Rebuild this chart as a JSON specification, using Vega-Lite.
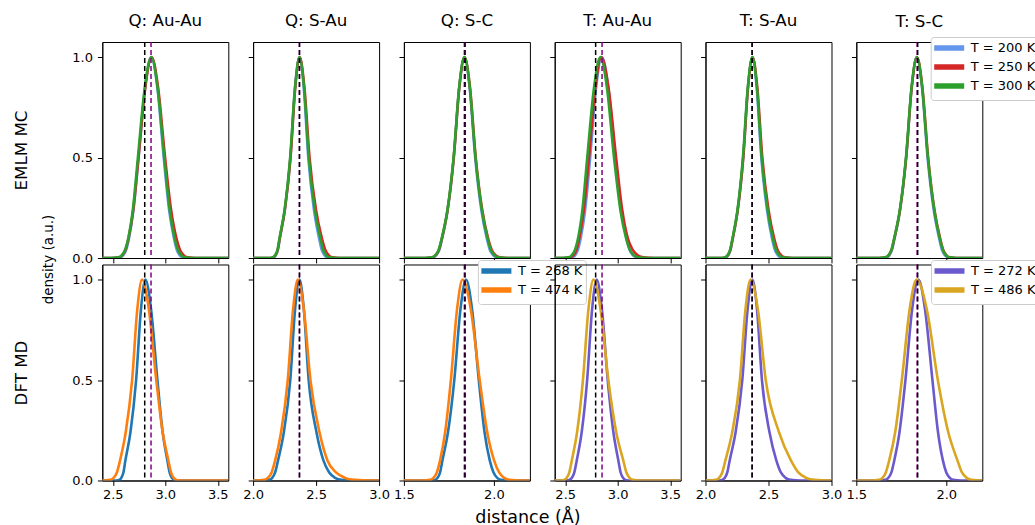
{
"$schema":"https://vega.github.io/schema/vega-lite/v6.json",
"background":"white",
"autosize":{"type":"pad"},
"padding":{"left":12.3,"top":12,"right":0,"bottom":0},
"datasets":{
"refs":[
{"c":"qa","r":"A","x":2.804},{"c":"qa","r":"B","x":2.864},
{"c":"qs","r":"A","x":2.368},{"c":"qs","r":"B","x":2.368},
{"c":"qc","r":"A","x":1.840},{"c":"qc","r":"B","x":1.836},
{"c":"ta","r":"A","x":2.790},{"c":"ta","r":"B","x":2.851},
{"c":"ts","r":"A","x":2.370},{"c":"ts","r":"B","x":2.370},
{"c":"tc","r":"A","x":1.841},{"c":"tc","r":"B","x":1.838}
],
"curves":[
{"c":"qa","m":"MC","s":"T = 200 K","x":2.4,"y":0},{"c":"qa","m":"MC","s":"T = 200 K","x":2.507,"y":0},{"c":"qa","m":"MC","s":"T = 200 K","x":2.566,"y":0.003},{"c":"qa","m":"MC","s":"T = 200 K","x":2.596,"y":0.012},{"c":"qa","m":"MC","s":"T = 200 K","x":2.627,"y":0.04},{"c":"qa","m":"MC","s":"T = 200 K","x":2.655,"y":0.1},{"c":"qa","m":"MC","s":"T = 200 K","x":2.697,"y":0.24},{"c":"qa","m":"MC","s":"T = 200 K","x":2.745,"y":0.5},{"c":"qa","m":"MC","s":"T = 200 K","x":2.808,"y":0.85},{"c":"qa","m":"MC","s":"T = 200 K","x":2.867,"y":1},{"c":"qa","m":"MC","s":"T = 200 K","x":2.924,"y":0.85},{"c":"qa","m":"MC","s":"T = 200 K","x":2.985,"y":0.5},{"c":"qa","m":"MC","s":"T = 200 K","x":3.036,"y":0.24},{"c":"qa","m":"MC","s":"T = 200 K","x":3.082,"y":0.1},{"c":"qa","m":"MC","s":"T = 200 K","x":3.110,"y":0.04},{"c":"qa","m":"MC","s":"T = 200 K","x":3.140,"y":0.012},{"c":"qa","m":"MC","s":"T = 200 K","x":3.169,"y":0.003},{"c":"qa","m":"MC","s":"T = 200 K","x":3.227,"y":0},{"c":"qa","m":"MC","s":"T = 200 K","x":3.6,"y":0},
{"c":"qa","m":"MC","s":"T = 250 K","x":2.4,"y":0},{"c":"qa","m":"MC","s":"T = 250 K","x":2.49,"y":0},{"c":"qa","m":"MC","s":"T = 250 K","x":2.554,"y":0.003},{"c":"qa","m":"MC","s":"T = 250 K","x":2.586,"y":0.012},{"c":"qa","m":"MC","s":"T = 250 K","x":2.620,"y":0.04},{"c":"qa","m":"MC","s":"T = 250 K","x":2.650,"y":0.1},{"c":"qa","m":"MC","s":"T = 250 K","x":2.695,"y":0.24},{"c":"qa","m":"MC","s":"T = 250 K","x":2.745,"y":0.5},{"c":"qa","m":"MC","s":"T = 250 K","x":2.810,"y":0.85},{"c":"qa","m":"MC","s":"T = 250 K","x":2.870,"y":1},{"c":"qa","m":"MC","s":"T = 250 K","x":2.931,"y":0.85},{"c":"qa","m":"MC","s":"T = 250 K","x":2.998,"y":0.5},{"c":"qa","m":"MC","s":"T = 250 K","x":3.055,"y":0.24},{"c":"qa","m":"MC","s":"T = 250 K","x":3.105,"y":0.1},{"c":"qa","m":"MC","s":"T = 250 K","x":3.140,"y":0.04},{"c":"qa","m":"MC","s":"T = 250 K","x":3.179,"y":0.012},{"c":"qa","m":"MC","s":"T = 250 K","x":3.216,"y":0.003},{"c":"qa","m":"MC","s":"T = 250 K","x":3.290,"y":0},{"c":"qa","m":"MC","s":"T = 250 K","x":3.6,"y":0},
{"c":"qa","m":"MC","s":"T = 300 K","x":2.4,"y":0},{"c":"qa","m":"MC","s":"T = 300 K","x":2.486,"y":0},{"c":"qa","m":"MC","s":"T = 300 K","x":2.551,"y":0.003},{"c":"qa","m":"MC","s":"T = 300 K","x":2.583,"y":0.012},{"c":"qa","m":"MC","s":"T = 300 K","x":2.617,"y":0.04},{"c":"qa","m":"MC","s":"T = 300 K","x":2.648,"y":0.1},{"c":"qa","m":"MC","s":"T = 300 K","x":2.691,"y":0.24},{"c":"qa","m":"MC","s":"T = 300 K","x":2.739,"y":0.5},{"c":"qa","m":"MC","s":"T = 300 K","x":2.805,"y":0.85},{"c":"qa","m":"MC","s":"T = 300 K","x":2.866,"y":1},{"c":"qa","m":"MC","s":"T = 300 K","x":2.926,"y":0.85},{"c":"qa","m":"MC","s":"T = 300 K","x":2.990,"y":0.5},{"c":"qa","m":"MC","s":"T = 300 K","x":3.042,"y":0.24},{"c":"qa","m":"MC","s":"T = 300 K","x":3.088,"y":0.1},{"c":"qa","m":"MC","s":"T = 300 K","x":3.120,"y":0.04},{"c":"qa","m":"MC","s":"T = 300 K","x":3.155,"y":0.012},{"c":"qa","m":"MC","s":"T = 300 K","x":3.189,"y":0.003},{"c":"qa","m":"MC","s":"T = 300 K","x":3.256,"y":0},{"c":"qa","m":"MC","s":"T = 300 K","x":3.6,"y":0},
{"c":"qa","m":"MD","s":"T = 268 K","x":2.4,"y":0},{"c":"qa","m":"MD","s":"T = 268 K","x":2.52,"y":0},{"c":"qa","m":"MD","s":"T = 268 K","x":2.56,"y":0.003},{"c":"qa","m":"MD","s":"T = 268 K","x":2.58,"y":0.012},{"c":"qa","m":"MD","s":"T = 268 K","x":2.601,"y":0.04},{"c":"qa","m":"MD","s":"T = 268 K","x":2.62,"y":0.1},{"c":"qa","m":"MD","s":"T = 268 K","x":2.668,"y":0.24},{"c":"qa","m":"MD","s":"T = 268 K","x":2.722,"y":0.5},{"c":"qa","m":"MD","s":"T = 268 K","x":2.768,"y":0.85},{"c":"qa","m":"MD","s":"T = 268 K","x":2.810,"y":1},{"c":"qa","m":"MD","s":"T = 268 K","x":2.865,"y":0.85},{"c":"qa","m":"MD","s":"T = 268 K","x":2.925,"y":0.5},{"c":"qa","m":"MD","s":"T = 268 K","x":2.975,"y":0.24},{"c":"qa","m":"MD","s":"T = 268 K","x":3.02,"y":0.1},{"c":"qa","m":"MD","s":"T = 268 K","x":3.041,"y":0.04},{"c":"qa","m":"MD","s":"T = 268 K","x":3.064,"y":0.012},{"c":"qa","m":"MD","s":"T = 268 K","x":3.086,"y":0.003},{"c":"qa","m":"MD","s":"T = 268 K","x":3.13,"y":0},{"c":"qa","m":"MD","s":"T = 268 K","x":3.6,"y":0},
{"c":"qa","m":"MD","s":"T = 474 K","x":2.4,"y":0},{"c":"qa","m":"MD","s":"T = 474 K","x":2.409,"y":0},{"c":"qa","m":"MD","s":"T = 474 K","x":2.473,"y":0.003},{"c":"qa","m":"MD","s":"T = 474 K","x":2.505,"y":0.012},{"c":"qa","m":"MD","s":"T = 474 K","x":2.539,"y":0.04},{"c":"qa","m":"MD","s":"T = 474 K","x":2.569,"y":0.1},{"c":"qa","m":"MD","s":"T = 474 K","x":2.623,"y":0.24},{"c":"qa","m":"MD","s":"T = 474 K","x":2.684,"y":0.5},{"c":"qa","m":"MD","s":"T = 474 K","x":2.733,"y":0.85},{"c":"qa","m":"MD","s":"T = 474 K","x":2.779,"y":1},{"c":"qa","m":"MD","s":"T = 474 K","x":2.844,"y":0.85},{"c":"qa","m":"MD","s":"T = 474 K","x":2.914,"y":0.5},{"c":"qa","m":"MD","s":"T = 474 K","x":2.975,"y":0.24},{"c":"qa","m":"MD","s":"T = 474 K","x":3.029,"y":0.1},{"c":"qa","m":"MD","s":"T = 474 K","x":3.054,"y":0.04},{"c":"qa","m":"MD","s":"T = 474 K","x":3.081,"y":0.012},{"c":"qa","m":"MD","s":"T = 474 K","x":3.107,"y":0.003},{"c":"qa","m":"MD","s":"T = 474 K","x":3.159,"y":0},{"c":"qa","m":"MD","s":"T = 474 K","x":3.6,"y":0},
{"c":"qs","m":"MC","s":"T = 200 K","x":2.0,"y":0},{"c":"qs","m":"MC","s":"T = 200 K","x":2.128,"y":0},{"c":"qs","m":"MC","s":"T = 200 K","x":2.162,"y":0.003},{"c":"qs","m":"MC","s":"T = 200 K","x":2.179,"y":0.012},{"c":"qs","m":"MC","s":"T = 200 K","x":2.197,"y":0.04},{"c":"qs","m":"MC","s":"T = 200 K","x":2.213,"y":0.1},{"c":"qs","m":"MC","s":"T = 200 K","x":2.252,"y":0.24},{"c":"qs","m":"MC","s":"T = 200 K","x":2.296,"y":0.5},{"c":"qs","m":"MC","s":"T = 200 K","x":2.333,"y":0.85},{"c":"qs","m":"MC","s":"T = 200 K","x":2.368,"y":1},{"c":"qs","m":"MC","s":"T = 200 K","x":2.402,"y":0.85},{"c":"qs","m":"MC","s":"T = 200 K","x":2.438,"y":0.5},{"c":"qs","m":"MC","s":"T = 200 K","x":2.483,"y":0.24},{"c":"qs","m":"MC","s":"T = 200 K","x":2.523,"y":0.1},{"c":"qs","m":"MC","s":"T = 200 K","x":2.545,"y":0.04},{"c":"qs","m":"MC","s":"T = 200 K","x":2.569,"y":0.012},{"c":"qs","m":"MC","s":"T = 200 K","x":2.592,"y":0.003},{"c":"qs","m":"MC","s":"T = 200 K","x":2.638,"y":0},{"c":"qs","m":"MC","s":"T = 200 K","x":3.0,"y":0},
{"c":"qs","m":"MC","s":"T = 250 K","x":2.0,"y":0},{"c":"qs","m":"MC","s":"T = 250 K","x":2.12,"y":0},{"c":"qs","m":"MC","s":"T = 250 K","x":2.157,"y":0.003},{"c":"qs","m":"MC","s":"T = 250 K","x":2.175,"y":0.012},{"c":"qs","m":"MC","s":"T = 250 K","x":2.195,"y":0.04},{"c":"qs","m":"MC","s":"T = 250 K","x":2.212,"y":0.1},{"c":"qs","m":"MC","s":"T = 250 K","x":2.252,"y":0.24},{"c":"qs","m":"MC","s":"T = 250 K","x":2.297,"y":0.5},{"c":"qs","m":"MC","s":"T = 250 K","x":2.335,"y":0.85},{"c":"qs","m":"MC","s":"T = 250 K","x":2.370,"y":1},{"c":"qs","m":"MC","s":"T = 250 K","x":2.407,"y":0.85},{"c":"qs","m":"MC","s":"T = 250 K","x":2.448,"y":0.5},{"c":"qs","m":"MC","s":"T = 250 K","x":2.499,"y":0.24},{"c":"qs","m":"MC","s":"T = 250 K","x":2.545,"y":0.1},{"c":"qs","m":"MC","s":"T = 250 K","x":2.573,"y":0.04},{"c":"qs","m":"MC","s":"T = 250 K","x":2.603,"y":0.012},{"c":"qs","m":"MC","s":"T = 250 K","x":2.632,"y":0.003},{"c":"qs","m":"MC","s":"T = 250 K","x":2.69,"y":0},{"c":"qs","m":"MC","s":"T = 250 K","x":3.0,"y":0},
{"c":"qs","m":"MC","s":"T = 300 K","x":2.0,"y":0},{"c":"qs","m":"MC","s":"T = 300 K","x":2.118,"y":0},{"c":"qs","m":"MC","s":"T = 300 K","x":2.155,"y":0.003},{"c":"qs","m":"MC","s":"T = 300 K","x":2.173,"y":0.012},{"c":"qs","m":"MC","s":"T = 300 K","x":2.193,"y":0.04},{"c":"qs","m":"MC","s":"T = 300 K","x":2.21,"y":0.1},{"c":"qs","m":"MC","s":"T = 300 K","x":2.25,"y":0.24},{"c":"qs","m":"MC","s":"T = 300 K","x":2.294,"y":0.5},{"c":"qs","m":"MC","s":"T = 300 K","x":2.333,"y":0.85},{"c":"qs","m":"MC","s":"T = 300 K","x":2.368,"y":1},{"c":"qs","m":"MC","s":"T = 300 K","x":2.404,"y":0.85},{"c":"qs","m":"MC","s":"T = 300 K","x":2.442,"y":0.5},{"c":"qs","m":"MC","s":"T = 300 K","x":2.49,"y":0.24},{"c":"qs","m":"MC","s":"T = 300 K","x":2.533,"y":0.1},{"c":"qs","m":"MC","s":"T = 300 K","x":2.557,"y":0.04},{"c":"qs","m":"MC","s":"T = 300 K","x":2.583,"y":0.012},{"c":"qs","m":"MC","s":"T = 300 K","x":2.608,"y":0.003},{"c":"qs","m":"MC","s":"T = 300 K","x":2.658,"y":0},{"c":"qs","m":"MC","s":"T = 300 K","x":3.0,"y":0},
{"c":"qs","m":"MD","s":"T = 268 K","x":2.0,"y":0},{"c":"qs","m":"MD","s":"T = 268 K","x":2.078,"y":0},{"c":"qs","m":"MD","s":"T = 268 K","x":2.126,"y":0.003},{"c":"qs","m":"MD","s":"T = 268 K","x":2.15,"y":0.012},{"c":"qs","m":"MD","s":"T = 268 K","x":2.175,"y":0.04},{"c":"qs","m":"MD","s":"T = 268 K","x":2.198,"y":0.1},{"c":"qs","m":"MD","s":"T = 268 K","x":2.244,"y":0.24},{"c":"qs","m":"MD","s":"T = 268 K","x":2.295,"y":0.5},{"c":"qs","m":"MD","s":"T = 268 K","x":2.333,"y":0.85},{"c":"qs","m":"MD","s":"T = 268 K","x":2.368,"y":1},{"c":"qs","m":"MD","s":"T = 268 K","x":2.403,"y":0.85},{"c":"qs","m":"MD","s":"T = 268 K","x":2.441,"y":0.5},{"c":"qs","m":"MD","s":"T = 268 K","x":2.503,"y":0.24},{"c":"qs","m":"MD","s":"T = 268 K","x":2.558,"y":0.1},{"c":"qs","m":"MD","s":"T = 268 K","x":2.604,"y":0.04},{"c":"qs","m":"MD","s":"T = 268 K","x":2.654,"y":0.012},{"c":"qs","m":"MD","s":"T = 268 K","x":2.702,"y":0.003},{"c":"qs","m":"MD","s":"T = 268 K","x":2.798,"y":0},{"c":"qs","m":"MD","s":"T = 268 K","x":3.0,"y":0},
{"c":"qs","m":"MD","s":"T = 474 K","x":2.0,"y":0},{"c":"qs","m":"MD","s":"T = 474 K","x":2.025,"y":0},{"c":"qs","m":"MD","s":"T = 474 K","x":2.085,"y":0.003},{"c":"qs","m":"MD","s":"T = 474 K","x":2.115,"y":0.012},{"c":"qs","m":"MD","s":"T = 474 K","x":2.147,"y":0.04},{"c":"qs","m":"MD","s":"T = 474 K","x":2.175,"y":0.1},{"c":"qs","m":"MD","s":"T = 474 K","x":2.222,"y":0.24},{"c":"qs","m":"MD","s":"T = 474 K","x":2.275,"y":0.5},{"c":"qs","m":"MD","s":"T = 474 K","x":2.317,"y":0.85},{"c":"qs","m":"MD","s":"T = 474 K","x":2.355,"y":1},{"c":"qs","m":"MD","s":"T = 474 K","x":2.403,"y":0.85},{"c":"qs","m":"MD","s":"T = 474 K","x":2.455,"y":0.5},{"c":"qs","m":"MD","s":"T = 474 K","x":2.527,"y":0.24},{"c":"qs","m":"MD","s":"T = 474 K","x":2.59,"y":0.1},{"c":"qs","m":"MD","s":"T = 474 K","x":2.658,"y":0.04},{"c":"qs","m":"MD","s":"T = 474 K","x":2.732,"y":0.012},{"c":"qs","m":"MD","s":"T = 474 K","x":2.803,"y":0.003},{"c":"qs","m":"MD","s":"T = 474 K","x":2.945,"y":0},{"c":"qs","m":"MD","s":"T = 474 K","x":3.0,"y":0},
{"c":"qc","m":"MC","s":"T = 200 K","x":1.5,"y":0},{"c":"qc","m":"MC","s":"T = 200 K","x":1.626,"y":0},{"c":"qc","m":"MC","s":"T = 200 K","x":1.661,"y":0.003},{"c":"qc","m":"MC","s":"T = 200 K","x":1.678,"y":0.012},{"c":"qc","m":"MC","s":"T = 200 K","x":1.697,"y":0.04},{"c":"qc","m":"MC","s":"T = 200 K","x":1.713,"y":0.1},{"c":"qc","m":"MC","s":"T = 200 K","x":1.743,"y":0.24},{"c":"qc","m":"MC","s":"T = 200 K","x":1.777,"y":0.5},{"c":"qc","m":"MC","s":"T = 200 K","x":1.808,"y":0.85},{"c":"qc","m":"MC","s":"T = 200 K","x":1.836,"y":1},{"c":"qc","m":"MC","s":"T = 200 K","x":1.865,"y":0.85},{"c":"qc","m":"MC","s":"T = 200 K","x":1.896,"y":0.5},{"c":"qc","m":"MC","s":"T = 200 K","x":1.93,"y":0.24},{"c":"qc","m":"MC","s":"T = 200 K","x":1.96,"y":0.1},{"c":"qc","m":"MC","s":"T = 200 K","x":1.978,"y":0.04},{"c":"qc","m":"MC","s":"T = 200 K","x":1.998,"y":0.012},{"c":"qc","m":"MC","s":"T = 200 K","x":2.018,"y":0.003},{"c":"qc","m":"MC","s":"T = 200 K","x":2.056,"y":0},{"c":"qc","m":"MC","s":"T = 200 K","x":2.2,"y":0},
{"c":"qc","m":"MC","s":"T = 250 K","x":1.5,"y":0},{"c":"qc","m":"MC","s":"T = 250 K","x":1.617,"y":0},{"c":"qc","m":"MC","s":"T = 250 K","x":1.655,"y":0.003},{"c":"qc","m":"MC","s":"T = 250 K","x":1.674,"y":0.012},{"c":"qc","m":"MC","s":"T = 250 K","x":1.694,"y":0.04},{"c":"qc","m":"MC","s":"T = 250 K","x":1.712,"y":0.1},{"c":"qc","m":"MC","s":"T = 250 K","x":1.743,"y":0.24},{"c":"qc","m":"MC","s":"T = 250 K","x":1.777,"y":0.5},{"c":"qc","m":"MC","s":"T = 250 K","x":1.808,"y":0.85},{"c":"qc","m":"MC","s":"T = 250 K","x":1.837,"y":1},{"c":"qc","m":"MC","s":"T = 250 K","x":1.867,"y":0.85},{"c":"qc","m":"MC","s":"T = 250 K","x":1.899,"y":0.5},{"c":"qc","m":"MC","s":"T = 250 K","x":1.935,"y":0.24},{"c":"qc","m":"MC","s":"T = 250 K","x":1.967,"y":0.1},{"c":"qc","m":"MC","s":"T = 250 K","x":1.988,"y":0.04},{"c":"qc","m":"MC","s":"T = 250 K","x":2.011,"y":0.012},{"c":"qc","m":"MC","s":"T = 250 K","x":2.033,"y":0.003},{"c":"qc","m":"MC","s":"T = 250 K","x":2.077,"y":0},{"c":"qc","m":"MC","s":"T = 250 K","x":2.2,"y":0},
{"c":"qc","m":"MC","s":"T = 300 K","x":1.5,"y":0},{"c":"qc","m":"MC","s":"T = 300 K","x":1.616,"y":0},{"c":"qc","m":"MC","s":"T = 300 K","x":1.654,"y":0.003},{"c":"qc","m":"MC","s":"T = 300 K","x":1.673,"y":0.012},{"c":"qc","m":"MC","s":"T = 300 K","x":1.693,"y":0.04},{"c":"qc","m":"MC","s":"T = 300 K","x":1.711,"y":0.1},{"c":"qc","m":"MC","s":"T = 300 K","x":1.742,"y":0.24},{"c":"qc","m":"MC","s":"T = 300 K","x":1.776,"y":0.5},{"c":"qc","m":"MC","s":"T = 300 K","x":1.807,"y":0.85},{"c":"qc","m":"MC","s":"T = 300 K","x":1.836,"y":1},{"c":"qc","m":"MC","s":"T = 300 K","x":1.866,"y":0.85},{"c":"qc","m":"MC","s":"T = 300 K","x":1.898,"y":0.5},{"c":"qc","m":"MC","s":"T = 300 K","x":1.933,"y":0.24},{"c":"qc","m":"MC","s":"T = 300 K","x":1.964,"y":0.1},{"c":"qc","m":"MC","s":"T = 300 K","x":1.983,"y":0.04},{"c":"qc","m":"MC","s":"T = 300 K","x":2.005,"y":0.012},{"c":"qc","m":"MC","s":"T = 300 K","x":2.025,"y":0.003},{"c":"qc","m":"MC","s":"T = 300 K","x":2.066,"y":0},{"c":"qc","m":"MC","s":"T = 300 K","x":2.2,"y":0},
{"c":"qc","m":"MD","s":"T = 268 K","x":1.5,"y":0},{"c":"qc","m":"MD","s":"T = 268 K","x":1.645,"y":0},{"c":"qc","m":"MD","s":"T = 268 K","x":1.673,"y":0.003},{"c":"qc","m":"MD","s":"T = 268 K","x":1.686,"y":0.012},{"c":"qc","m":"MD","s":"T = 268 K","x":1.701,"y":0.04},{"c":"qc","m":"MD","s":"T = 268 K","x":1.714,"y":0.1},{"c":"qc","m":"MD","s":"T = 268 K","x":1.745,"y":0.24},{"c":"qc","m":"MD","s":"T = 268 K","x":1.78,"y":0.5},{"c":"qc","m":"MD","s":"T = 268 K","x":1.814,"y":0.85},{"c":"qc","m":"MD","s":"T = 268 K","x":1.845,"y":1},{"c":"qc","m":"MD","s":"T = 268 K","x":1.879,"y":0.85},{"c":"qc","m":"MD","s":"T = 268 K","x":1.916,"y":0.5},{"c":"qc","m":"MD","s":"T = 268 K","x":1.948,"y":0.24},{"c":"qc","m":"MD","s":"T = 268 K","x":1.977,"y":0.1},{"c":"qc","m":"MD","s":"T = 268 K","x":1.998,"y":0.04},{"c":"qc","m":"MD","s":"T = 268 K","x":2.02,"y":0.012},{"c":"qc","m":"MD","s":"T = 268 K","x":2.042,"y":0.003},{"c":"qc","m":"MD","s":"T = 268 K","x":2.085,"y":0},{"c":"qc","m":"MD","s":"T = 268 K","x":2.2,"y":0},
{"c":"qc","m":"MD","s":"T = 474 K","x":1.5,"y":0},{"c":"qc","m":"MD","s":"T = 474 K","x":1.606,"y":0},{"c":"qc","m":"MD","s":"T = 474 K","x":1.644,"y":0.003},{"c":"qc","m":"MD","s":"T = 474 K","x":1.663,"y":0.012},{"c":"qc","m":"MD","s":"T = 474 K","x":1.683,"y":0.04},{"c":"qc","m":"MD","s":"T = 474 K","x":1.701,"y":0.1},{"c":"qc","m":"MD","s":"T = 474 K","x":1.729,"y":0.24},{"c":"qc","m":"MD","s":"T = 474 K","x":1.761,"y":0.5},{"c":"qc","m":"MD","s":"T = 474 K","x":1.795,"y":0.85},{"c":"qc","m":"MD","s":"T = 474 K","x":1.826,"y":1},{"c":"qc","m":"MD","s":"T = 474 K","x":1.872,"y":0.85},{"c":"qc","m":"MD","s":"T = 474 K","x":1.921,"y":0.5},{"c":"qc","m":"MD","s":"T = 474 K","x":1.963,"y":0.24},{"c":"qc","m":"MD","s":"T = 474 K","x":2.001,"y":0.1},{"c":"qc","m":"MD","s":"T = 474 K","x":2.029,"y":0.04},{"c":"qc","m":"MD","s":"T = 474 K","x":2.059,"y":0.012},{"c":"qc","m":"MD","s":"T = 474 K","x":2.088,"y":0.003},{"c":"qc","m":"MD","s":"T = 474 K","x":2.146,"y":0},{"c":"qc","m":"MD","s":"T = 474 K","x":2.2,"y":0},
{"c":"ta","m":"MC","s":"T = 200 K","x":2.4,"y":0},{"c":"ta","m":"MC","s":"T = 200 K","x":2.508,"y":0},{"c":"ta","m":"MC","s":"T = 200 K","x":2.564,"y":0.003},{"c":"ta","m":"MC","s":"T = 200 K","x":2.592,"y":0.012},{"c":"ta","m":"MC","s":"T = 200 K","x":2.621,"y":0.04},{"c":"ta","m":"MC","s":"T = 200 K","x":2.648,"y":0.1},{"c":"ta","m":"MC","s":"T = 200 K","x":2.69,"y":0.24},{"c":"ta","m":"MC","s":"T = 200 K","x":2.738,"y":0.5},{"c":"ta","m":"MC","s":"T = 200 K","x":2.795,"y":0.85},{"c":"ta","m":"MC","s":"T = 200 K","x":2.848,"y":1},{"c":"ta","m":"MC","s":"T = 200 K","x":2.91,"y":0.85},{"c":"ta","m":"MC","s":"T = 200 K","x":2.978,"y":0.5},{"c":"ta","m":"MC","s":"T = 200 K","x":3.034,"y":0.24},{"c":"ta","m":"MC","s":"T = 200 K","x":3.083,"y":0.1},{"c":"ta","m":"MC","s":"T = 200 K","x":3.114,"y":0.04},{"c":"ta","m":"MC","s":"T = 200 K","x":3.149,"y":0.012},{"c":"ta","m":"MC","s":"T = 200 K","x":3.182,"y":0.003},{"c":"ta","m":"MC","s":"T = 200 K","x":3.248,"y":0},{"c":"ta","m":"MC","s":"T = 200 K","x":3.6,"y":0},
{"c":"ta","m":"MC","s":"T = 250 K","x":2.4,"y":0},{"c":"ta","m":"MC","s":"T = 250 K","x":2.485,"y":0},{"c":"ta","m":"MC","s":"T = 250 K","x":2.545,"y":0.003},{"c":"ta","m":"MC","s":"T = 250 K","x":2.575,"y":0.012},{"c":"ta","m":"MC","s":"T = 250 K","x":2.607,"y":0.04},{"c":"ta","m":"MC","s":"T = 250 K","x":2.635,"y":0.1},{"c":"ta","m":"MC","s":"T = 250 K","x":2.678,"y":0.24},{"c":"ta","m":"MC","s":"T = 250 K","x":2.727,"y":0.5},{"c":"ta","m":"MC","s":"T = 250 K","x":2.788,"y":0.85},{"c":"ta","m":"MC","s":"T = 250 K","x":2.845,"y":1},{"c":"ta","m":"MC","s":"T = 250 K","x":2.912,"y":0.85},{"c":"ta","m":"MC","s":"T = 250 K","x":2.985,"y":0.5},{"c":"ta","m":"MC","s":"T = 250 K","x":3.043,"y":0.24},{"c":"ta","m":"MC","s":"T = 250 K","x":3.095,"y":0.1},{"c":"ta","m":"MC","s":"T = 250 K","x":3.143,"y":0.04},{"c":"ta","m":"MC","s":"T = 250 K","x":3.195,"y":0.012},{"c":"ta","m":"MC","s":"T = 250 K","x":3.245,"y":0.003},{"c":"ta","m":"MC","s":"T = 250 K","x":3.345,"y":0},{"c":"ta","m":"MC","s":"T = 250 K","x":3.6,"y":0},
{"c":"ta","m":"MC","s":"T = 300 K","x":2.4,"y":0},{"c":"ta","m":"MC","s":"T = 300 K","x":2.465,"y":0},{"c":"ta","m":"MC","s":"T = 300 K","x":2.528,"y":0.003},{"c":"ta","m":"MC","s":"T = 300 K","x":2.56,"y":0.012},{"c":"ta","m":"MC","s":"T = 300 K","x":2.593,"y":0.04},{"c":"ta","m":"MC","s":"T = 300 K","x":2.623,"y":0.1},{"c":"ta","m":"MC","s":"T = 300 K","x":2.664,"y":0.24},{"c":"ta","m":"MC","s":"T = 300 K","x":2.71,"y":0.5},{"c":"ta","m":"MC","s":"T = 300 K","x":2.775,"y":0.85},{"c":"ta","m":"MC","s":"T = 300 K","x":2.835,"y":1},{"c":"ta","m":"MC","s":"T = 300 K","x":2.897,"y":0.85},{"c":"ta","m":"MC","s":"T = 300 K","x":2.965,"y":0.5},{"c":"ta","m":"MC","s":"T = 300 K","x":3.025,"y":0.24},{"c":"ta","m":"MC","s":"T = 300 K","x":3.079,"y":0.1},{"c":"ta","m":"MC","s":"T = 300 K","x":3.116,"y":0.04},{"c":"ta","m":"MC","s":"T = 300 K","x":3.157,"y":0.012},{"c":"ta","m":"MC","s":"T = 300 K","x":3.197,"y":0.003},{"c":"ta","m":"MC","s":"T = 300 K","x":3.275,"y":0},{"c":"ta","m":"MC","s":"T = 300 K","x":3.6,"y":0},
{"c":"ta","m":"MD","s":"T = 272 K","x":2.4,"y":0},{"c":"ta","m":"MD","s":"T = 272 K","x":2.49,"y":0},{"c":"ta","m":"MD","s":"T = 272 K","x":2.538,"y":0.003},{"c":"ta","m":"MD","s":"T = 272 K","x":2.562,"y":0.012},{"c":"ta","m":"MD","s":"T = 272 K","x":2.587,"y":0.04},{"c":"ta","m":"MD","s":"T = 272 K","x":2.61,"y":0.1},{"c":"ta","m":"MD","s":"T = 272 K","x":2.657,"y":0.24},{"c":"ta","m":"MD","s":"T = 272 K","x":2.709,"y":0.5},{"c":"ta","m":"MD","s":"T = 272 K","x":2.756,"y":0.85},{"c":"ta","m":"MD","s":"T = 272 K","x":2.800,"y":1},{"c":"ta","m":"MD","s":"T = 272 K","x":2.85,"y":0.85},{"c":"ta","m":"MD","s":"T = 272 K","x":2.905,"y":0.5},{"c":"ta","m":"MD","s":"T = 272 K","x":2.959,"y":0.24},{"c":"ta","m":"MD","s":"T = 272 K","x":3.006,"y":0.1},{"c":"ta","m":"MD","s":"T = 272 K","x":3.028,"y":0.04},{"c":"ta","m":"MD","s":"T = 272 K","x":3.052,"y":0.012},{"c":"ta","m":"MD","s":"T = 272 K","x":3.074,"y":0.003},{"c":"ta","m":"MD","s":"T = 272 K","x":3.12,"y":0},{"c":"ta","m":"MD","s":"T = 272 K","x":3.6,"y":0},
{"c":"ta","m":"MD","s":"T = 486 K","x":2.4,"y":0},{"c":"ta","m":"MD","s":"T = 486 K","x":2.439,"y":0},{"c":"ta","m":"MD","s":"T = 486 K","x":2.489,"y":0.003},{"c":"ta","m":"MD","s":"T = 486 K","x":2.513,"y":0.012},{"c":"ta","m":"MD","s":"T = 486 K","x":2.539,"y":0.04},{"c":"ta","m":"MD","s":"T = 486 K","x":2.563,"y":0.1},{"c":"ta","m":"MD","s":"T = 486 K","x":2.613,"y":0.24},{"c":"ta","m":"MD","s":"T = 486 K","x":2.669,"y":0.5},{"c":"ta","m":"MD","s":"T = 486 K","x":2.721,"y":0.85},{"c":"ta","m":"MD","s":"T = 486 K","x":2.769,"y":1},{"c":"ta","m":"MD","s":"T = 486 K","x":2.837,"y":0.85},{"c":"ta","m":"MD","s":"T = 486 K","x":2.911,"y":0.5},{"c":"ta","m":"MD","s":"T = 486 K","x":2.986,"y":0.24},{"c":"ta","m":"MD","s":"T = 486 K","x":3.053,"y":0.1},{"c":"ta","m":"MD","s":"T = 486 K","x":3.083,"y":0.04},{"c":"ta","m":"MD","s":"T = 486 K","x":3.115,"y":0.012},{"c":"ta","m":"MD","s":"T = 486 K","x":3.147,"y":0.003},{"c":"ta","m":"MD","s":"T = 486 K","x":3.209,"y":0},{"c":"ta","m":"MD","s":"T = 486 K","x":3.6,"y":0},
{"c":"ts","m":"MC","s":"T = 200 K","x":2.0,"y":0},{"c":"ts","m":"MC","s":"T = 200 K","x":2.122,"y":0},{"c":"ts","m":"MC","s":"T = 200 K","x":2.16,"y":0.003},{"c":"ts","m":"MC","s":"T = 200 K","x":2.179,"y":0.012},{"c":"ts","m":"MC","s":"T = 200 K","x":2.199,"y":0.04},{"c":"ts","m":"MC","s":"T = 200 K","x":2.217,"y":0.1},{"c":"ts","m":"MC","s":"T = 200 K","x":2.256,"y":0.24},{"c":"ts","m":"MC","s":"T = 200 K","x":2.299,"y":0.5},{"c":"ts","m":"MC","s":"T = 200 K","x":2.337,"y":0.85},{"c":"ts","m":"MC","s":"T = 200 K","x":2.372,"y":1},{"c":"ts","m":"MC","s":"T = 200 K","x":2.406,"y":0.85},{"c":"ts","m":"MC","s":"T = 200 K","x":2.443,"y":0.5},{"c":"ts","m":"MC","s":"T = 200 K","x":2.488,"y":0.24},{"c":"ts","m":"MC","s":"T = 200 K","x":2.527,"y":0.1},{"c":"ts","m":"MC","s":"T = 200 K","x":2.551,"y":0.04},{"c":"ts","m":"MC","s":"T = 200 K","x":2.577,"y":0.012},{"c":"ts","m":"MC","s":"T = 200 K","x":2.602,"y":0.003},{"c":"ts","m":"MC","s":"T = 200 K","x":2.652,"y":0},{"c":"ts","m":"MC","s":"T = 200 K","x":3.0,"y":0},
{"c":"ts","m":"MC","s":"T = 250 K","x":2.0,"y":0},{"c":"ts","m":"MC","s":"T = 250 K","x":2.114,"y":0},{"c":"ts","m":"MC","s":"T = 250 K","x":2.155,"y":0.003},{"c":"ts","m":"MC","s":"T = 250 K","x":2.176,"y":0.012},{"c":"ts","m":"MC","s":"T = 250 K","x":2.197,"y":0.04},{"c":"ts","m":"MC","s":"T = 250 K","x":2.217,"y":0.1},{"c":"ts","m":"MC","s":"T = 250 K","x":2.256,"y":0.24},{"c":"ts","m":"MC","s":"T = 250 K","x":2.3,"y":0.5},{"c":"ts","m":"MC","s":"T = 250 K","x":2.338,"y":0.85},{"c":"ts","m":"MC","s":"T = 250 K","x":2.374,"y":1},{"c":"ts","m":"MC","s":"T = 250 K","x":2.411,"y":0.85},{"c":"ts","m":"MC","s":"T = 250 K","x":2.451,"y":0.5},{"c":"ts","m":"MC","s":"T = 250 K","x":2.5,"y":0.24},{"c":"ts","m":"MC","s":"T = 250 K","x":2.544,"y":0.1},{"c":"ts","m":"MC","s":"T = 250 K","x":2.572,"y":0.04},{"c":"ts","m":"MC","s":"T = 250 K","x":2.604,"y":0.012},{"c":"ts","m":"MC","s":"T = 250 K","x":2.634,"y":0.003},{"c":"ts","m":"MC","s":"T = 250 K","x":2.694,"y":0},{"c":"ts","m":"MC","s":"T = 250 K","x":3.0,"y":0},
{"c":"ts","m":"MC","s":"T = 300 K","x":2.0,"y":0},{"c":"ts","m":"MC","s":"T = 300 K","x":2.112,"y":0},{"c":"ts","m":"MC","s":"T = 300 K","x":2.153,"y":0.003},{"c":"ts","m":"MC","s":"T = 300 K","x":2.174,"y":0.012},{"c":"ts","m":"MC","s":"T = 300 K","x":2.195,"y":0.04},{"c":"ts","m":"MC","s":"T = 300 K","x":2.215,"y":0.1},{"c":"ts","m":"MC","s":"T = 300 K","x":2.254,"y":0.24},{"c":"ts","m":"MC","s":"T = 300 K","x":2.297,"y":0.5},{"c":"ts","m":"MC","s":"T = 300 K","x":2.336,"y":0.85},{"c":"ts","m":"MC","s":"T = 300 K","x":2.372,"y":1},{"c":"ts","m":"MC","s":"T = 300 K","x":2.408,"y":0.85},{"c":"ts","m":"MC","s":"T = 300 K","x":2.446,"y":0.5},{"c":"ts","m":"MC","s":"T = 300 K","x":2.493,"y":0.24},{"c":"ts","m":"MC","s":"T = 300 K","x":2.534,"y":0.1},{"c":"ts","m":"MC","s":"T = 300 K","x":2.56,"y":0.04},{"c":"ts","m":"MC","s":"T = 300 K","x":2.589,"y":0.012},{"c":"ts","m":"MC","s":"T = 300 K","x":2.617,"y":0.003},{"c":"ts","m":"MC","s":"T = 300 K","x":2.672,"y":0},{"c":"ts","m":"MC","s":"T = 300 K","x":3.0,"y":0},
{"c":"ts","m":"MD","s":"T = 272 K","x":2.0,"y":0},{"c":"ts","m":"MD","s":"T = 272 K","x":2.092,"y":0},{"c":"ts","m":"MD","s":"T = 272 K","x":2.132,"y":0.003},{"c":"ts","m":"MD","s":"T = 272 K","x":2.152,"y":0.012},{"c":"ts","m":"MD","s":"T = 272 K","x":2.173,"y":0.04},{"c":"ts","m":"MD","s":"T = 272 K","x":2.192,"y":0.1},{"c":"ts","m":"MD","s":"T = 272 K","x":2.239,"y":0.24},{"c":"ts","m":"MD","s":"T = 272 K","x":2.292,"y":0.5},{"c":"ts","m":"MD","s":"T = 272 K","x":2.334,"y":0.85},{"c":"ts","m":"MD","s":"T = 272 K","x":2.372,"y":1},{"c":"ts","m":"MD","s":"T = 272 K","x":2.409,"y":0.85},{"c":"ts","m":"MD","s":"T = 272 K","x":2.448,"y":0.5},{"c":"ts","m":"MD","s":"T = 272 K","x":2.508,"y":0.24},{"c":"ts","m":"MD","s":"T = 272 K","x":2.562,"y":0.1},{"c":"ts","m":"MD","s":"T = 272 K","x":2.598,"y":0.04},{"c":"ts","m":"MD","s":"T = 272 K","x":2.638,"y":0.012},{"c":"ts","m":"MD","s":"T = 272 K","x":2.676,"y":0.003},{"c":"ts","m":"MD","s":"T = 272 K","x":2.752,"y":0},{"c":"ts","m":"MD","s":"T = 272 K","x":3.0,"y":0},
{"c":"ts","m":"MD","s":"T = 486 K","x":2.0,"y":0},{"c":"ts","m":"MD","s":"T = 486 K","x":2.028,"y":0},{"c":"ts","m":"MD","s":"T = 486 K","x":2.08,"y":0.003},{"c":"ts","m":"MD","s":"T = 486 K","x":2.106,"y":0.012},{"c":"ts","m":"MD","s":"T = 486 K","x":2.133,"y":0.04},{"c":"ts","m":"MD","s":"T = 486 K","x":2.158,"y":0.1},{"c":"ts","m":"MD","s":"T = 486 K","x":2.212,"y":0.24},{"c":"ts","m":"MD","s":"T = 486 K","x":2.273,"y":0.5},{"c":"ts","m":"MD","s":"T = 486 K","x":2.317,"y":0.85},{"c":"ts","m":"MD","s":"T = 486 K","x":2.358,"y":1},{"c":"ts","m":"MD","s":"T = 486 K","x":2.416,"y":0.85},{"c":"ts","m":"MD","s":"T = 486 K","x":2.478,"y":0.5},{"c":"ts","m":"MD","s":"T = 486 K","x":2.584,"y":0.24},{"c":"ts","m":"MD","s":"T = 486 K","x":2.678,"y":0.1},{"c":"ts","m":"MD","s":"T = 486 K","x":2.737,"y":0.04},{"c":"ts","m":"MD","s":"T = 486 K","x":2.802,"y":0.012},{"c":"ts","m":"MD","s":"T = 486 K","x":2.864,"y":0.003},{"c":"ts","m":"MD","s":"T = 486 K","x":2.988,"y":0},{"c":"ts","m":"MD","s":"T = 486 K","x":3.0,"y":0},
{"c":"tc","m":"MC","s":"T = 200 K","x":1.5,"y":0},{"c":"tc","m":"MC","s":"T = 200 K","x":1.636,"y":0},{"c":"tc","m":"MC","s":"T = 200 K","x":1.667,"y":0.003},{"c":"tc","m":"MC","s":"T = 200 K","x":1.682,"y":0.012},{"c":"tc","m":"MC","s":"T = 200 K","x":1.698,"y":0.04},{"c":"tc","m":"MC","s":"T = 200 K","x":1.713,"y":0.1},{"c":"tc","m":"MC","s":"T = 200 K","x":1.743,"y":0.24},{"c":"tc","m":"MC","s":"T = 200 K","x":1.777,"y":0.5},{"c":"tc","m":"MC","s":"T = 200 K","x":1.808,"y":0.85},{"c":"tc","m":"MC","s":"T = 200 K","x":1.836,"y":1},{"c":"tc","m":"MC","s":"T = 200 K","x":1.865,"y":0.85},{"c":"tc","m":"MC","s":"T = 200 K","x":1.896,"y":0.5},{"c":"tc","m":"MC","s":"T = 200 K","x":1.93,"y":0.24},{"c":"tc","m":"MC","s":"T = 200 K","x":1.96,"y":0.1},{"c":"tc","m":"MC","s":"T = 200 K","x":1.976,"y":0.04},{"c":"tc","m":"MC","s":"T = 200 K","x":1.994,"y":0.012},{"c":"tc","m":"MC","s":"T = 200 K","x":2.012,"y":0.003},{"c":"tc","m":"MC","s":"T = 200 K","x":2.046,"y":0},{"c":"tc","m":"MC","s":"T = 200 K","x":2.2,"y":0},
{"c":"tc","m":"MC","s":"T = 250 K","x":1.5,"y":0},{"c":"tc","m":"MC","s":"T = 250 K","x":1.627,"y":0},{"c":"tc","m":"MC","s":"T = 250 K","x":1.661,"y":0.003},{"c":"tc","m":"MC","s":"T = 250 K","x":1.678,"y":0.012},{"c":"tc","m":"MC","s":"T = 250 K","x":1.696,"y":0.04},{"c":"tc","m":"MC","s":"T = 250 K","x":1.712,"y":0.1},{"c":"tc","m":"MC","s":"T = 250 K","x":1.743,"y":0.24},{"c":"tc","m":"MC","s":"T = 250 K","x":1.777,"y":0.5},{"c":"tc","m":"MC","s":"T = 250 K","x":1.808,"y":0.85},{"c":"tc","m":"MC","s":"T = 250 K","x":1.837,"y":1},{"c":"tc","m":"MC","s":"T = 250 K","x":1.867,"y":0.85},{"c":"tc","m":"MC","s":"T = 250 K","x":1.899,"y":0.5},{"c":"tc","m":"MC","s":"T = 250 K","x":1.934,"y":0.24},{"c":"tc","m":"MC","s":"T = 250 K","x":1.965,"y":0.1},{"c":"tc","m":"MC","s":"T = 250 K","x":1.983,"y":0.04},{"c":"tc","m":"MC","s":"T = 250 K","x":2.002,"y":0.012},{"c":"tc","m":"MC","s":"T = 250 K","x":2.02,"y":0.003},{"c":"tc","m":"MC","s":"T = 250 K","x":2.057,"y":0},{"c":"tc","m":"MC","s":"T = 250 K","x":2.2,"y":0},
{"c":"tc","m":"MC","s":"T = 300 K","x":1.5,"y":0},{"c":"tc","m":"MC","s":"T = 300 K","x":1.626,"y":0},{"c":"tc","m":"MC","s":"T = 300 K","x":1.66,"y":0.003},{"c":"tc","m":"MC","s":"T = 300 K","x":1.677,"y":0.012},{"c":"tc","m":"MC","s":"T = 300 K","x":1.695,"y":0.04},{"c":"tc","m":"MC","s":"T = 300 K","x":1.711,"y":0.1},{"c":"tc","m":"MC","s":"T = 300 K","x":1.742,"y":0.24},{"c":"tc","m":"MC","s":"T = 300 K","x":1.776,"y":0.5},{"c":"tc","m":"MC","s":"T = 300 K","x":1.807,"y":0.85},{"c":"tc","m":"MC","s":"T = 300 K","x":1.836,"y":1},{"c":"tc","m":"MC","s":"T = 300 K","x":1.866,"y":0.85},{"c":"tc","m":"MC","s":"T = 300 K","x":1.898,"y":0.5},{"c":"tc","m":"MC","s":"T = 300 K","x":1.933,"y":0.24},{"c":"tc","m":"MC","s":"T = 300 K","x":1.963,"y":0.1},{"c":"tc","m":"MC","s":"T = 300 K","x":1.981,"y":0.04},{"c":"tc","m":"MC","s":"T = 300 K","x":2.0,"y":0.012},{"c":"tc","m":"MC","s":"T = 300 K","x":2.019,"y":0.003},{"c":"tc","m":"MC","s":"T = 300 K","x":2.056,"y":0},{"c":"tc","m":"MC","s":"T = 300 K","x":2.2,"y":0},
{"c":"tc","m":"MD","s":"T = 272 K","x":1.5,"y":0},{"c":"tc","m":"MD","s":"T = 272 K","x":1.625,"y":0},{"c":"tc","m":"MD","s":"T = 272 K","x":1.659,"y":0.003},{"c":"tc","m":"MD","s":"T = 272 K","x":1.677,"y":0.012},{"c":"tc","m":"MD","s":"T = 272 K","x":1.695,"y":0.04},{"c":"tc","m":"MD","s":"T = 272 K","x":1.711,"y":0.1},{"c":"tc","m":"MD","s":"T = 272 K","x":1.74,"y":0.24},{"c":"tc","m":"MD","s":"T = 272 K","x":1.773,"y":0.5},{"c":"tc","m":"MD","s":"T = 272 K","x":1.81,"y":0.85},{"c":"tc","m":"MD","s":"T = 272 K","x":1.845,"y":1},{"c":"tc","m":"MD","s":"T = 272 K","x":1.882,"y":0.85},{"c":"tc","m":"MD","s":"T = 272 K","x":1.923,"y":0.5},{"c":"tc","m":"MD","s":"T = 272 K","x":1.954,"y":0.24},{"c":"tc","m":"MD","s":"T = 272 K","x":1.981,"y":0.1},{"c":"tc","m":"MD","s":"T = 272 K","x":2.0,"y":0.04},{"c":"tc","m":"MD","s":"T = 272 K","x":2.021,"y":0.012},{"c":"tc","m":"MD","s":"T = 272 K","x":2.04,"y":0.003},{"c":"tc","m":"MD","s":"T = 272 K","x":2.08,"y":0},{"c":"tc","m":"MD","s":"T = 272 K","x":2.2,"y":0},
{"c":"tc","m":"MD","s":"T = 486 K","x":1.5,"y":0},{"c":"tc","m":"MD","s":"T = 486 K","x":1.585,"y":0},{"c":"tc","m":"MD","s":"T = 486 K","x":1.624,"y":0.003},{"c":"tc","m":"MD","s":"T = 486 K","x":1.644,"y":0.012},{"c":"tc","m":"MD","s":"T = 486 K","x":1.664,"y":0.04},{"c":"tc","m":"MD","s":"T = 486 K","x":1.683,"y":0.1},{"c":"tc","m":"MD","s":"T = 486 K","x":1.716,"y":0.24},{"c":"tc","m":"MD","s":"T = 486 K","x":1.753,"y":0.5},{"c":"tc","m":"MD","s":"T = 486 K","x":1.796,"y":0.85},{"c":"tc","m":"MD","s":"T = 486 K","x":1.835,"y":1},{"c":"tc","m":"MD","s":"T = 486 K","x":1.892,"y":0.85},{"c":"tc","m":"MD","s":"T = 486 K","x":1.953,"y":0.5},{"c":"tc","m":"MD","s":"T = 486 K","x":2.011,"y":0.24},{"c":"tc","m":"MD","s":"T = 486 K","x":2.062,"y":0.1},{"c":"tc","m":"MD","s":"T = 486 K","x":2.087,"y":0.04},{"c":"tc","m":"MD","s":"T = 486 K","x":2.115,"y":0.012},{"c":"tc","m":"MD","s":"T = 486 K","x":2.142,"y":0.003},{"c":"tc","m":"MD","s":"T = 486 K","x":2.195,"y":0},{"c":"tc","m":"MD","s":"T = 486 K","x":2.2,"y":0}
]
},
"columns":6,
"spacing":{"row":6.5,"column":24.8},
"bounds":"flush",
"resolve":{"scale":{"x":"independent","y":"independent","color":"independent"},"legend":{"color":"independent"},"axis":{"x":"independent","y":"independent"}},
"concat":[
{"width":126,"height":216,"title":"Q: Au-Au","layer":[
 {"data":{"name":"curves"},"transform":[{"filter":"datum.c=='qa' && datum.m=='MC'"}],"mark":{"type":"line","interpolate":"monotone","strokeWidth":2.6,"clip":true},
  "encoding":{"x":{"field":"x","type":"quantitative","scale":{"domain":[2.4,3.6],"nice":false,"zero":false},"axis":{"values":[2.5,3,3.5],"labels":false,"title":null}},
   "y":{"field":"y","type":"quantitative","scale":{"domain":[0,1.075],"nice":false},"axis":{"values":[0,0.5,1],"format":".1f","title":"EMLM MC","titleFontSize":16.7,"titleX":-76,"titleY":108,"titleAngle":-90,"titleAlign":"center","titleBaseline":"alphabetic"}},
   "color":{"field":"s","type":"nominal","scale":{"domain":["T = 200 K","T = 250 K","T = 300 K"],"range":["#6495ED","#d62728","#2ca02c"]},"legend":null}}},
 {"data":{"name":"refs"},"transform":[{"filter":"datum.c=='qa' && datum.r=='B'"}],"mark":{"type":"rule","color":"#800080","strokeWidth":1.5,"strokeDash":[5,3]},"encoding":{"x":{"field":"x","type":"quantitative"}}},
 {"data":{"name":"refs"},"transform":[{"filter":"datum.c=='qa' && datum.r=='A'"}],"mark":{"type":"rule","color":"black","strokeWidth":1.5,"strokeDash":[5,3]},"encoding":{"x":{"field":"x","type":"quantitative"}}}
]},
{"width":126,"height":216,"title":"Q: S-Au","layer":[
 {"data":{"name":"curves"},"transform":[{"filter":"datum.c=='qs' && datum.m=='MC'"}],"mark":{"type":"line","interpolate":"monotone","strokeWidth":2.6,"clip":true},
  "encoding":{"x":{"field":"x","type":"quantitative","scale":{"domain":[2.0,3.0],"nice":false,"zero":false},"axis":{"values":[2,2.5,3],"labels":false,"title":null}},
   "y":{"field":"y","type":"quantitative","scale":{"domain":[0,1.075],"nice":false},"axis":{"values":[0,0.5,1],"labels":false,"title":"density (a.u.)","titleFontSize":13.5,"titleX":-201,"titleY":217,"titleAngle":-90,"titleAlign":"center","titleBaseline":"alphabetic"}},
   "color":{"field":"s","type":"nominal","scale":{"domain":["T = 200 K","T = 250 K","T = 300 K"],"range":["#6495ED","#d62728","#2ca02c"]},"legend":null}}},
 {"data":{"name":"refs"},"transform":[{"filter":"datum.c=='qs' && datum.r=='B'"}],"mark":{"type":"rule","color":"#800080","strokeWidth":1.5,"strokeDash":[5,3]},"encoding":{"x":{"field":"x","type":"quantitative"}}},
 {"data":{"name":"refs"},"transform":[{"filter":"datum.c=='qs' && datum.r=='A'"}],"mark":{"type":"rule","color":"black","strokeWidth":1.5,"strokeDash":[5,3]},"encoding":{"x":{"field":"x","type":"quantitative"}}}
]},
{"width":126,"height":216,"title":"Q: S-C","layer":[
 {"data":{"name":"curves"},"transform":[{"filter":"datum.c=='qc' && datum.m=='MC'"}],"mark":{"type":"line","interpolate":"monotone","strokeWidth":2.6,"clip":true},
  "encoding":{"x":{"field":"x","type":"quantitative","scale":{"domain":[1.5,2.2],"nice":false,"zero":false},"axis":{"values":[1.5,2],"labels":false,"title":null}},
   "y":{"field":"y","type":"quantitative","scale":{"domain":[0,1.075],"nice":false},"axis":{"values":[0,0.5,1],"labels":false,"title":null}},
   "color":{"field":"s","type":"nominal","scale":{"domain":["T = 200 K","T = 250 K","T = 300 K"],"range":["#6495ED","#d62728","#2ca02c"]},"legend":null}}},
 {"data":{"name":"refs"},"transform":[{"filter":"datum.c=='qc' && datum.r=='B'"}],"mark":{"type":"rule","color":"#800080","strokeWidth":1.5,"strokeDash":[5,3]},"encoding":{"x":{"field":"x","type":"quantitative"}}},
 {"data":{"name":"refs"},"transform":[{"filter":"datum.c=='qc' && datum.r=='A'"}],"mark":{"type":"rule","color":"black","strokeWidth":1.5,"strokeDash":[5,3]},"encoding":{"x":{"field":"x","type":"quantitative"}}}
]},
{"width":126,"height":216,"title":"T: Au-Au","layer":[
 {"data":{"name":"curves"},"transform":[{"filter":"datum.c=='ta' && datum.m=='MC'"}],"mark":{"type":"line","interpolate":"monotone","strokeWidth":2.6,"clip":true},
  "encoding":{"x":{"field":"x","type":"quantitative","scale":{"domain":[2.4,3.6],"nice":false,"zero":false},"axis":{"values":[2.5,3,3.5],"labels":false,"title":null}},
   "y":{"field":"y","type":"quantitative","scale":{"domain":[0,1.075],"nice":false},"axis":{"values":[0,0.5,1],"labels":false,"title":null}},
   "color":{"field":"s","type":"nominal","scale":{"domain":["T = 200 K","T = 250 K","T = 300 K"],"range":["#6495ED","#d62728","#2ca02c"]},"legend":null}}},
 {"data":{"name":"refs"},"transform":[{"filter":"datum.c=='ta' && datum.r=='B'"}],"mark":{"type":"rule","color":"#800080","strokeWidth":1.5,"strokeDash":[5,3]},"encoding":{"x":{"field":"x","type":"quantitative"}}},
 {"data":{"name":"refs"},"transform":[{"filter":"datum.c=='ta' && datum.r=='A'"}],"mark":{"type":"rule","color":"black","strokeWidth":1.5,"strokeDash":[5,3]},"encoding":{"x":{"field":"x","type":"quantitative"}}}
]},
{"width":126,"height":216,"title":"T: S-Au","layer":[
 {"data":{"name":"curves"},"transform":[{"filter":"datum.c=='ts' && datum.m=='MC'"}],"mark":{"type":"line","interpolate":"monotone","strokeWidth":2.6,"clip":true},
  "encoding":{"x":{"field":"x","type":"quantitative","scale":{"domain":[2.0,3.0],"nice":false,"zero":false},"axis":{"values":[2,2.5,3],"labels":false,"title":null}},
   "y":{"field":"y","type":"quantitative","scale":{"domain":[0,1.075],"nice":false},"axis":{"values":[0,0.5,1],"labels":false,"title":null}},
   "color":{"field":"s","type":"nominal","scale":{"domain":["T = 200 K","T = 250 K","T = 300 K"],"range":["#6495ED","#d62728","#2ca02c"]},"legend":null}}},
 {"data":{"name":"refs"},"transform":[{"filter":"datum.c=='ts' && datum.r=='B'"}],"mark":{"type":"rule","color":"#800080","strokeWidth":1.5,"strokeDash":[5,3]},"encoding":{"x":{"field":"x","type":"quantitative"}}},
 {"data":{"name":"refs"},"transform":[{"filter":"datum.c=='ts' && datum.r=='A'"}],"mark":{"type":"rule","color":"black","strokeWidth":1.5,"strokeDash":[5,3]},"encoding":{"x":{"field":"x","type":"quantitative"}}}
]},
{"width":126,"height":216,"title":{"text":"T: S-C","offset":6.2},"layer":[
 {"data":{"name":"curves"},"transform":[{"filter":"datum.c=='tc' && datum.m=='MC'"}],"mark":{"type":"line","interpolate":"monotone","strokeWidth":2.6,"clip":true},
  "encoding":{"x":{"field":"x","type":"quantitative","scale":{"domain":[1.5,2.2],"nice":false,"zero":false},"axis":{"values":[1.5,2],"labels":false,"title":null}},
   "y":{"field":"y","type":"quantitative","scale":{"domain":[0,1.075],"nice":false},"axis":{"values":[0,0.5,1],"labels":false,"title":null}},
   "color":{"field":"s","type":"nominal","scale":{"domain":["T = 200 K","T = 250 K","T = 300 K"],"range":["#6495ED","#d62728","#2ca02c"]},"legend":{"orient":"none","legendX":74.4,"legendY":-5,"title":null}}}},
 {"data":{"name":"refs"},"transform":[{"filter":"datum.c=='tc' && datum.r=='B'"}],"mark":{"type":"rule","color":"#800080","strokeWidth":1.5,"strokeDash":[5,3]},"encoding":{"x":{"field":"x","type":"quantitative"}}},
 {"data":{"name":"refs"},"transform":[{"filter":"datum.c=='tc' && datum.r=='A'"}],"mark":{"type":"rule","color":"black","strokeWidth":1.5,"strokeDash":[5,3]},"encoding":{"x":{"field":"x","type":"quantitative"}}}
]},
{"width":126,"height":216,"layer":[
 {"data":{"name":"curves"},"transform":[{"filter":"datum.c=='qa' && datum.m=='MD'"}],"mark":{"type":"line","interpolate":"monotone","strokeWidth":2.6,"clip":true},
  "encoding":{"x":{"field":"x","type":"quantitative","scale":{"domain":[2.4,3.6],"nice":false,"zero":false},"axis":{"values":[2.5,3,3.5],"format":".1f","title":null}},
   "y":{"field":"y","type":"quantitative","scale":{"domain":[0,1.075],"nice":false},"axis":{"values":[0,0.5,1],"format":".1f","title":"DFT MD","titleFontSize":16.7,"titleX":-76,"titleY":108,"titleAngle":-90,"titleAlign":"center","titleBaseline":"alphabetic"}},
   "color":{"field":"s","type":"nominal","scale":{"domain":["T = 268 K","T = 474 K"],"range":["#1f77b4","#ff7f0e"]},"legend":null}}},
 {"data":{"name":"refs"},"transform":[{"filter":"datum.c=='qa' && datum.r=='B'"}],"mark":{"type":"rule","color":"#800080","strokeWidth":1.5,"strokeDash":[5,3]},"encoding":{"x":{"field":"x","type":"quantitative"}}},
 {"data":{"name":"refs"},"transform":[{"filter":"datum.c=='qa' && datum.r=='A'"}],"mark":{"type":"rule","color":"black","strokeWidth":1.5,"strokeDash":[5,3]},"encoding":{"x":{"field":"x","type":"quantitative"}}}
]},
{"width":126,"height":216,"layer":[
 {"data":{"name":"curves"},"transform":[{"filter":"datum.c=='qs' && datum.m=='MD'"}],"mark":{"type":"line","interpolate":"monotone","strokeWidth":2.6,"clip":true},
  "encoding":{"x":{"field":"x","type":"quantitative","scale":{"domain":[2.0,3.0],"nice":false,"zero":false},"axis":{"values":[2,2.5,3],"format":".1f","title":null}},
   "y":{"field":"y","type":"quantitative","scale":{"domain":[0,1.075],"nice":false},"axis":{"values":[0,0.5,1],"labels":false,"title":null}},
   "color":{"field":"s","type":"nominal","scale":{"domain":["T = 268 K","T = 474 K"],"range":["#1f77b4","#ff7f0e"]},"legend":null}}},
 {"data":{"name":"refs"},"transform":[{"filter":"datum.c=='qs' && datum.r=='B'"}],"mark":{"type":"rule","color":"#800080","strokeWidth":1.5,"strokeDash":[5,3]},"encoding":{"x":{"field":"x","type":"quantitative"}}},
 {"data":{"name":"refs"},"transform":[{"filter":"datum.c=='qs' && datum.r=='A'"}],"mark":{"type":"rule","color":"black","strokeWidth":1.5,"strokeDash":[5,3]},"encoding":{"x":{"field":"x","type":"quantitative"}}}
]},
{"width":126,"height":216,"layer":[
 {"data":{"name":"curves"},"transform":[{"filter":"datum.c=='qc' && datum.m=='MD'"}],"mark":{"type":"line","interpolate":"monotone","strokeWidth":2.6,"clip":true},
  "encoding":{"x":{"field":"x","type":"quantitative","scale":{"domain":[1.5,2.2],"nice":false,"zero":false},"axis":{"values":[1.5,2],"format":".1f","title":null}},
   "y":{"field":"y","type":"quantitative","scale":{"domain":[0,1.075],"nice":false},"axis":{"values":[0,0.5,1],"labels":false,"title":null}},
   "color":{"field":"s","type":"nominal","scale":{"domain":["T = 268 K","T = 474 K"],"range":["#1f77b4","#ff7f0e"]},"legend":{"orient":"none","legendX":74,"legendY":-4.5,"title":null}}}},
 {"data":{"name":"refs"},"transform":[{"filter":"datum.c=='qc' && datum.r=='B'"}],"mark":{"type":"rule","color":"#800080","strokeWidth":1.5,"strokeDash":[5,3]},"encoding":{"x":{"field":"x","type":"quantitative"}}},
 {"data":{"name":"refs"},"transform":[{"filter":"datum.c=='qc' && datum.r=='A'"}],"mark":{"type":"rule","color":"black","strokeWidth":1.5,"strokeDash":[5,3]},"encoding":{"x":{"field":"x","type":"quantitative"}}}
]},
{"width":126,"height":216,"layer":[
 {"data":{"name":"curves"},"transform":[{"filter":"datum.c=='ta' && datum.m=='MD'"}],"mark":{"type":"line","interpolate":"monotone","strokeWidth":2.6,"clip":true},
  "encoding":{"x":{"field":"x","type":"quantitative","scale":{"domain":[2.4,3.6],"nice":false,"zero":false},"axis":{"values":[2.5,3,3.5],"format":".1f","title":"distance (Å)","titleFontSize":17.5,"titleX":-27.2,"titleY":42,"titleAlign":"center","titleBaseline":"alphabetic","titleAngle":0}},
   "y":{"field":"y","type":"quantitative","scale":{"domain":[0,1.075],"nice":false},"axis":{"values":[0,0.5,1],"labels":false,"title":null}},
   "color":{"field":"s","type":"nominal","scale":{"domain":["T = 272 K","T = 486 K"],"range":["#6a5acd","#daa520"]},"legend":null}}},
 {"data":{"name":"refs"},"transform":[{"filter":"datum.c=='ta' && datum.r=='B'"}],"mark":{"type":"rule","color":"#800080","strokeWidth":1.5,"strokeDash":[5,3]},"encoding":{"x":{"field":"x","type":"quantitative"}}},
 {"data":{"name":"refs"},"transform":[{"filter":"datum.c=='ta' && datum.r=='A'"}],"mark":{"type":"rule","color":"black","strokeWidth":1.5,"strokeDash":[5,3]},"encoding":{"x":{"field":"x","type":"quantitative"}}}
]},
{"width":126,"height":216,"layer":[
 {"data":{"name":"curves"},"transform":[{"filter":"datum.c=='ts' && datum.m=='MD'"}],"mark":{"type":"line","interpolate":"monotone","strokeWidth":2.6,"clip":true},
  "encoding":{"x":{"field":"x","type":"quantitative","scale":{"domain":[2.0,3.0],"nice":false,"zero":false},"axis":{"values":[2,2.5,3],"format":".1f","title":null}},
   "y":{"field":"y","type":"quantitative","scale":{"domain":[0,1.075],"nice":false},"axis":{"values":[0,0.5,1],"labels":false,"title":null}},
   "color":{"field":"s","type":"nominal","scale":{"domain":["T = 272 K","T = 486 K"],"range":["#6a5acd","#daa520"]},"legend":null}}},
 {"data":{"name":"refs"},"transform":[{"filter":"datum.c=='ts' && datum.r=='B'"}],"mark":{"type":"rule","color":"#800080","strokeWidth":1.5,"strokeDash":[5,3]},"encoding":{"x":{"field":"x","type":"quantitative"}}},
 {"data":{"name":"refs"},"transform":[{"filter":"datum.c=='ts' && datum.r=='A'"}],"mark":{"type":"rule","color":"black","strokeWidth":1.5,"strokeDash":[5,3]},"encoding":{"x":{"field":"x","type":"quantitative"}}}
]},
{"width":126,"height":216,"layer":[
 {"data":{"name":"curves"},"transform":[{"filter":"datum.c=='tc' && datum.m=='MD'"}],"mark":{"type":"line","interpolate":"monotone","strokeWidth":2.6,"clip":true},
  "encoding":{"x":{"field":"x","type":"quantitative","scale":{"domain":[1.5,2.2],"nice":false,"zero":false},"axis":{"values":[1.5,2],"format":".1f","title":null}},
   "y":{"field":"y","type":"quantitative","scale":{"domain":[0,1.075],"nice":false},"axis":{"values":[0,0.5,1],"labels":false,"title":null}},
   "color":{"field":"s","type":"nominal","scale":{"domain":["T = 272 K","T = 486 K"],"range":["#6a5acd","#daa520"]},"legend":{"orient":"none","legendX":74.7,"legendY":-4.5,"title":null}}}},
 {"data":{"name":"refs"},"transform":[{"filter":"datum.c=='tc' && datum.r=='B'"}],"mark":{"type":"rule","color":"#800080","strokeWidth":1.5,"strokeDash":[5,3]},"encoding":{"x":{"field":"x","type":"quantitative"}}},
 {"data":{"name":"refs"},"transform":[{"filter":"datum.c=='tc' && datum.r=='A'"}],"mark":{"type":"rule","color":"black","strokeWidth":1.5,"strokeDash":[5,3]},"encoding":{"x":{"field":"x","type":"quantitative"}}}
]}
],
"config":{
 "font":"DejaVu Sans",
 "view":{"stroke":"black","strokeWidth":1},
 "axis":{"domainColor":"black","domainWidth":1,"tickColor":"black","tickWidth":1,"tickSize":4.9,"labelColor":"black","labelFont":"DejaVu Sans","labelFontSize":13,"grid":false,"titleColor":"black","titleFont":"DejaVu Sans","titleFontWeight":"normal","labelFlush":false,"labelOverlap":false},
 "axisX":{"labelPadding":3},
 "axisY":{"labelPadding":5},
 "title":{"font":"DejaVu Sans","fontSize":16.7,"fontWeight":"normal","color":"black","baseline":"alphabetic","offset":11.7,"frame":"group"},
 "legend":{"symbolType":"M-1.5,0H4.5","symbolSize":100,"symbolStrokeWidth":5.5,"labelFont":"DejaVu Sans","labelFontSize":13,"labelColor":"black","labelOffset":21,"rowPadding":-3.7,"padding":3,"fillColor":"white","strokeColor":"#cccccc","cornerRadius":3}
}
}
